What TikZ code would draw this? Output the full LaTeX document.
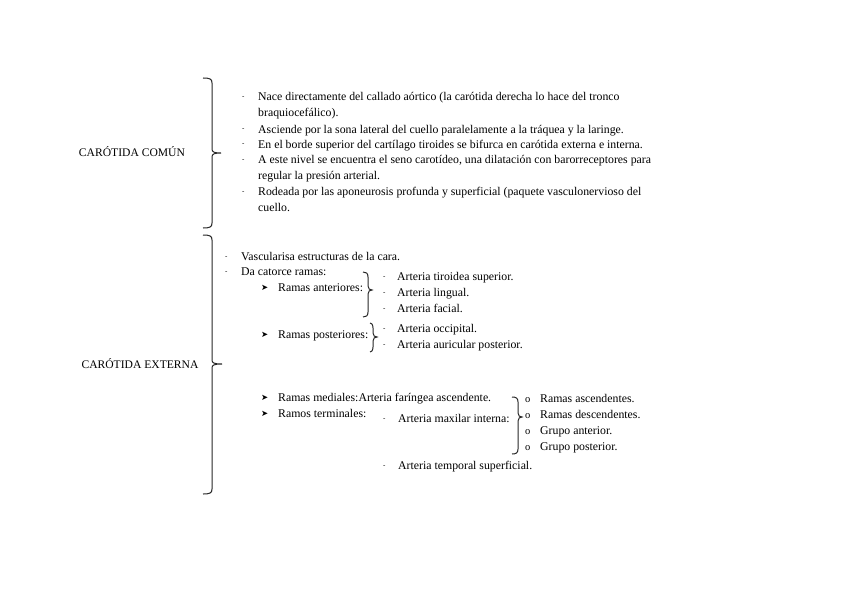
\documentclass[tikz,border=0pt]{standalone}
\usepackage{fontspec}
\setmainfont{Liberation Serif}
\newfontfamily\symfont{DejaVu Sans}
\usetikzlibrary{positioning}

% word-like brace: left end x, line x, tip x, top y, tip y, bottom y
\newcommand{\wordbrace}[6]{%
  \draw[braceline] (#1,#4) .. controls ({#2-2},#4) and (#2,{#4+1}) .. (#2,{#4+5})
    -- (#2,{#5-4}) .. controls (#2,{#5-1}) and ({#2+2},#5) .. (#3,#5)
    .. controls ({#2+2},#5) and (#2,{#5+1}) .. (#2,{#5+4})
    -- (#2,{#6-5}) .. controls (#2,{#6-1}) and ({#2-2},#6) .. (#1,#6);}

\begin{document}
\begin{tikzpicture}[
        x=1pt, y=-1pt,
        txt/.style={anchor=base west, inner sep=0pt, font=\fontsize{11.8}{13}\selectfont},
        head/.style={anchor=base, inner sep=0pt, font=\fontsize{11.6}{13}\selectfont},
        dashmark/.style={anchor=base west, inner sep=0pt, font=\fontsize{7}{7}\selectfont},
        arrmark/.style={anchor=base west, inner sep=0pt, font=\symfont\fontsize{8.5}{8}\selectfont},
        omark/.style={anchor=base west, inner sep=0pt, font=\fontsize{10.5}{10}\selectfont},
        braceline/.style={line width=1pt, black!85}
    ]
        \useasboundingbox (0,0) rectangle (848,599);

        % carotida comun
        \node[head] (comun) at (132,157) {CARÓTIDA COMÚN};
        \wordbrace{203}{212}{221}{78}{153}{228}

        \node[dashmark] (c1) at (242,99) {-};
        \node[txt] (t1) at (258,101) {Nace directamente del callado aórtico (la carótida derecha lo hace del tronco};
        \node[txt] (t1b) at (258,117) {braquiocefálico).};
        \node[dashmark] (c2) at (242,131) {-};
        \node[txt] (t2) at (258,133) {Asciende por la sona lateral del cuello paralelamente a la tráquea y la laringe.};
        \node[dashmark] (c3) at (242,146) {-};
        \node[txt] (t3) at (258,148) {En el borde superior del cartílago tiroides se bifurca en carótida externa e interna.};
        \node[dashmark] (c4) at (242,161) {-};
        \node[txt] (t4) at (258,163) {A este nivel se encuentra el seno carotídeo, una dilatación con barorreceptores para};
        \node[txt] (t4b) at (258,179) {regular la presión arterial.};
        \node[dashmark] (c5) at (242,193) {-};
        \node[txt] (t5) at (258,195) {Rodeada por las aponeurosis profunda y superficial (paquete vasculonervioso del};
        \node[txt] (t5b) at (258,211) {cuello.};

        % carotida externa
        \node[head] (externa) at (140,368) {CARÓTIDA EXTERNA};
        \wordbrace{203}{212}{222}{235}{364}{494}

        \node[dashmark] (e1) at (225,258) {-};
        \node[txt] (vasc) at (241,260) {Vascularisa estructuras de la cara.};
        \node[dashmark] (e2) at (225,273) {-};
        \node[txt] (cat) at (241,275) {Da catorce ramas:};

        \node[arrmark] (a1) at (261,290) {➤};
        \node[txt] (ant) at (278,291) {Ramas anteriores:};
        \wordbrace{363}{368}{372}{272}{290}{317}
        \node[dashmark] (s1) at (383,278) {-};
        \node[txt] (tiro) at (397,280) {Arteria tiroidea superior.};
        \node[dashmark] (s2) at (383,294) {-};
        \node[txt] (ling) at (397,296) {Arteria lingual.};
        \node[dashmark] (s3) at (383,310) {-};
        \node[txt] (fac) at (397,312) {Arteria facial.};

        \node[arrmark] (a2) at (261,337) {➤};
        \node[txt] (post) at (278,338) {Ramas posteriores:};
        \wordbrace{370}{373}{377}{323}{337}{352}
        \node[dashmark] (s4) at (383,330) {-};
        \node[txt] (occ) at (397,332) {Arteria occipital.};
        \node[dashmark] (s5) at (383,346) {-};
        \node[txt] (aur) at (397,348) {Arteria auricular posterior.};

        \node[arrmark] (a3) at (261,400) {➤};
        \node[txt] (med) at (278,401) {Ramas mediales:Arteria faríngea ascendente.};
        \node[arrmark] (a4) at (261,416) {➤};
        \node[txt] (term) at (278,417) {Ramos terminales:};
        \node[dashmark] (s6) at (383,420) {-};
        \node[txt] (maxi) at (398,422) {Arteria maxilar interna:};
        \wordbrace{512}{518}{522}{397}{417}{454}
        \node[omark] (o1) at (525,402) {o};
        \node[txt] (asc) at (540,402) {Ramas ascendentes.};
        \node[omark] (o2) at (525,418) {o};
        \node[txt] (desc) at (540,418) {Ramas descendentes.};
        \node[omark] (o3) at (525,434) {o};
        \node[txt] (gant) at (540,434) {Grupo anterior.};
        \node[omark] (o4) at (525,450) {o};
        \node[txt] (gpost) at (540,450) {Grupo posterior.};
        \node[dashmark] (s7) at (383,467) {-};
        \node[txt] (temp) at (398,469) {Arteria temporal superficial.};
\end{tikzpicture}
\end{document}
